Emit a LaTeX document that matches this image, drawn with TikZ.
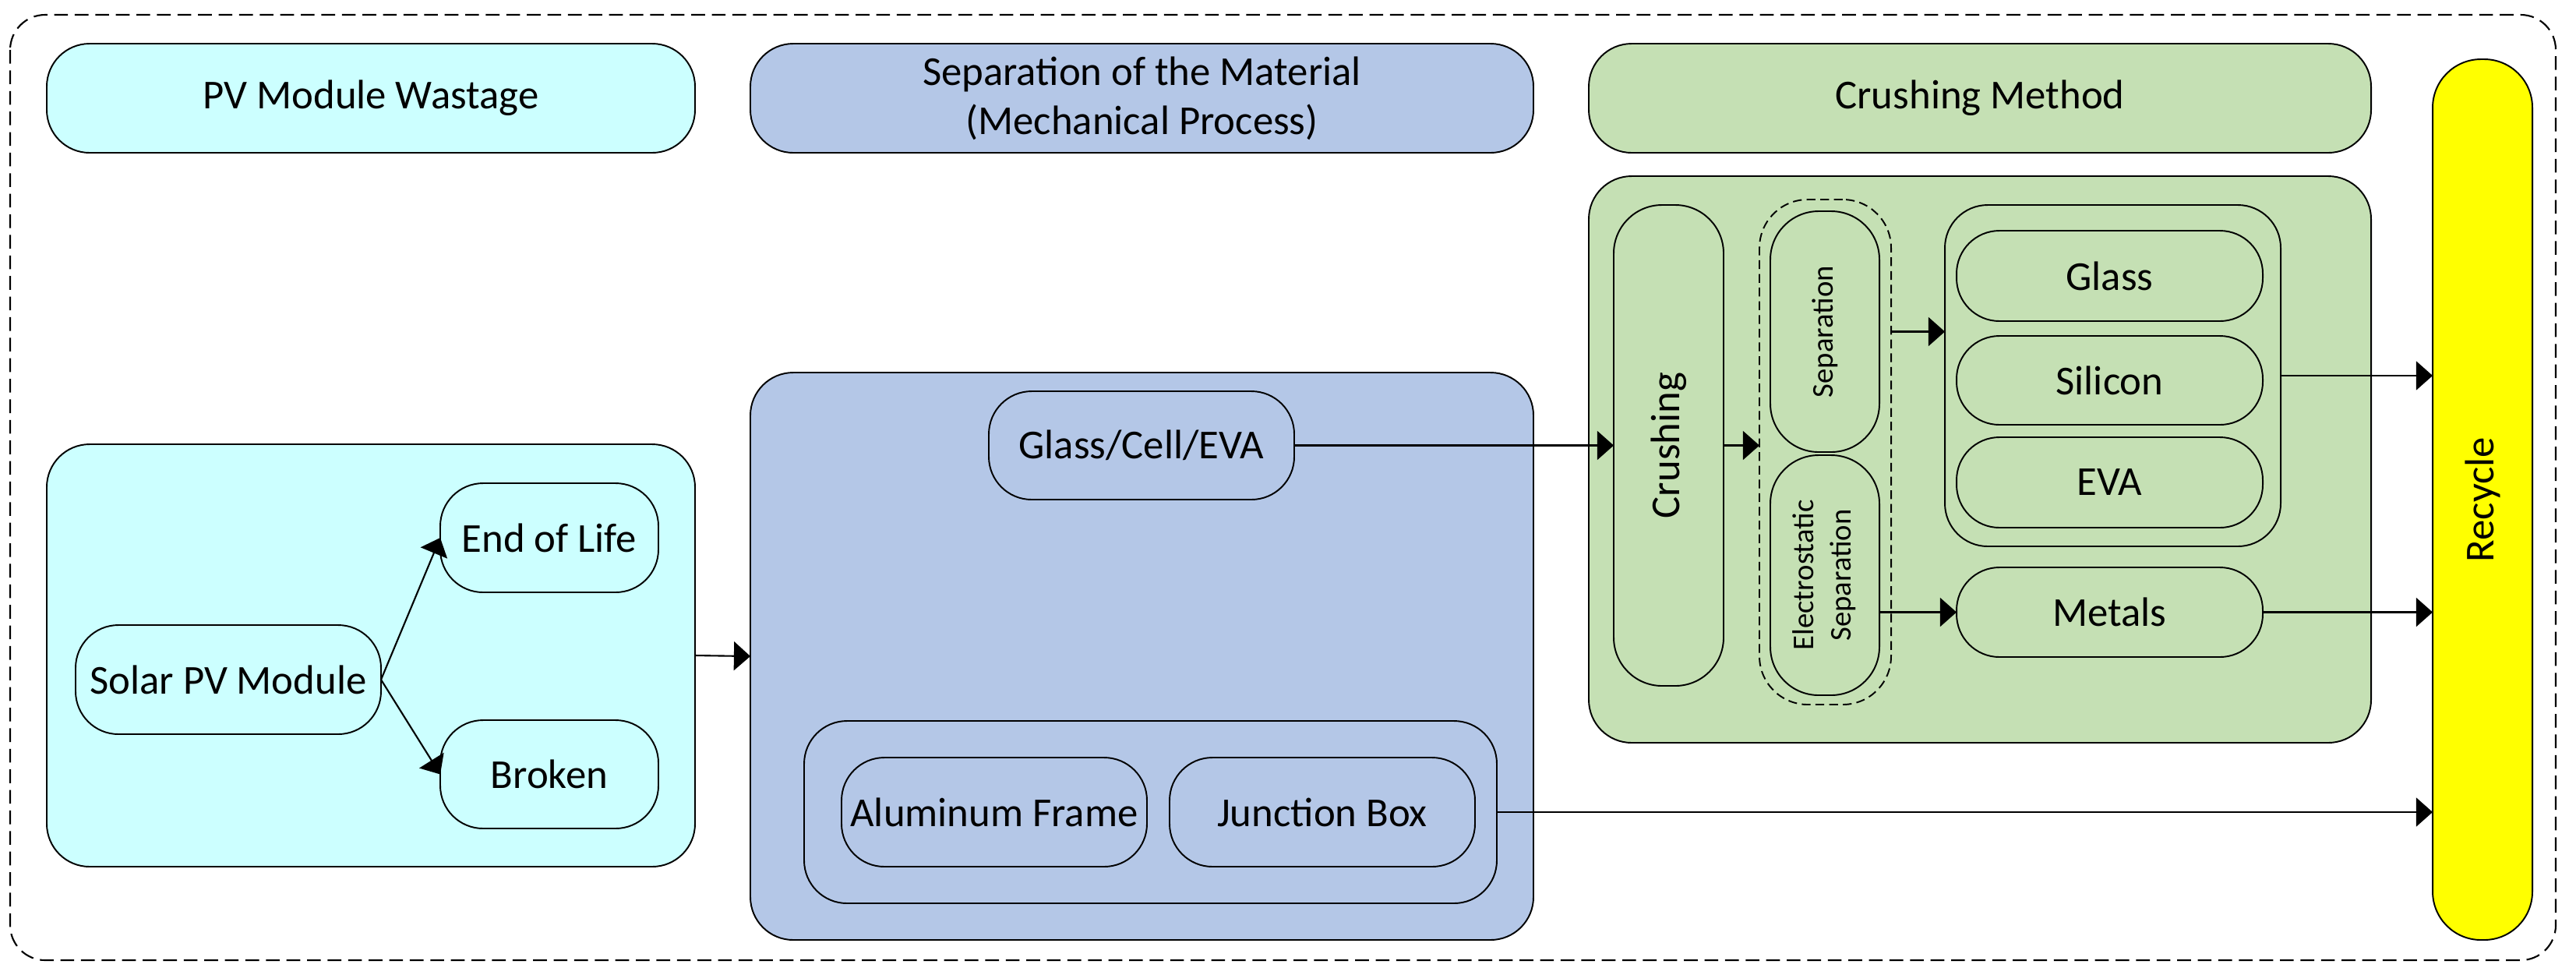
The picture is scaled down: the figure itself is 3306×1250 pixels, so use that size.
\documentclass[tikz,border=0pt]{standalone}
\usepackage{fontspec}
\setmainfont{Carlito}
\usetikzlibrary{arrows.meta}
\definecolor{cyanfill}{RGB}{204,255,255}
\definecolor{bluefill}{RGB}{180,199,231}
\definecolor{greenfill}{RGB}{197,224,180}
\definecolor{yellowfill}{RGB}{255,255,0}
\tikzset{
  wh/.style 2 args={minimum width=#1*0.01cm, minimum height=#2*0.01cm},
  box/.style={draw, line width=0.55pt, rounded corners=0.55cm, inner sep=0pt, outer sep=0pt,
    font=\fontsize{15}{18}\selectfont, align=center},
  tallbox/.style={box, rounded corners=0.62cm},
  arr/.style={line width=0.6pt, -{Triangle[length=6pt,width=10.5pt]}},
  smalltxt/.style={font=\fontsize{11}{13.4}\selectfont},
}
\begin{document}
\begin{tikzpicture}[x=0.01cm,y=-0.01cm]
\useasboundingbox (0,0) rectangle (3306,1250);
% outer dashed frame
\draw[line width=0.6pt, dash pattern=on 5pt off 2.5pt, rounded corners=0.45cm]
  (13,19) rectangle (3280,1232);
% headers
\node[box, fill=cyanfill, wh={832}{140}] (hpv) at (476,126) {PV Module Wastage};
\node[box, fill=bluefill, wh={1005}{140}] (hsep) at (1465.5,126) {Separation of the Material\\(Mechanical Process)};
\node[box, fill=greenfill, wh={1004}{140}] (hcm) at (2541,126) {Crushing Method};
% PV module wastage
\node[box, fill=cyanfill, wh={832}{542}] (pvbox) at (476,841) {};
\node[box, fill=cyanfill, wh={392}{140}] (solar) at (293,872) {Solar PV Module};
\node[box, fill=cyanfill, wh={280}{140}] (eol) at (705,690) {End of Life};
\node[box, fill=cyanfill, wh={280}{139}] (broken) at (705,993.5) {Broken};
% separation of the material
\node[box, fill=bluefill, wh={1005}{728}] (sepbox) at (1465.5,842) {};
\node[box, fill=bluefill, wh={392}{139}] (gce) at (1465,571.5) {Glass/Cell/EVA};
\node[box, fill=bluefill, wh={889}{234}] (jcont) at (1476.5,1042) {};
\node[box, fill=bluefill, wh={392}{140}] (alu) at (1276,1042) {Aluminum Frame};
\node[box, fill=bluefill, wh={392}{140}] (jbox) at (1697,1042) {Junction Box};
% crushing method
\node[box, fill=greenfill, wh={1004}{727}] (cmbox) at (2541,589.5) {};
\node[tallbox, fill=greenfill, wh={141}{617}] (crush) at (2141.5,571.5) {\rotatebox{90}{Crushing}};
\node[tallbox, dashed, dash pattern=on 3.2pt off 1.8pt, fill=greenfill, wh={169}{648}] (group) at (2342.5,580) {};
\node[tallbox, fill=greenfill, wh={140}{309}, smalltxt] (sepn) at (2342,425.5) {\rotatebox{90}{Separation}};
\node[tallbox, fill=greenfill, wh={140}{308}, smalltxt] (elec) at (2342,738)
  {\rotatebox{90}{\begin{tabular}{@{}c@{}}Electrostatic\\Separation\end{tabular}}};
\node[box, fill=greenfill, wh={431}{438}] (matc) at (2711.5,482) {};
\node[box, fill=greenfill, wh={393}{116}] (glass) at (2707.5,354) {Glass};
\node[box, fill=greenfill, wh={393}{114}] (silicon) at (2707.5,488) {Silicon};
\node[box, fill=greenfill, wh={393}{116}] (eva) at (2707.5,619) {EVA};
\node[box, fill=greenfill, wh={393}{115}] (metals) at (2707.5,785.5) {Metals};
% recycle
\node[tallbox, fill=yellowfill, wh={128}{1130}] (recycle) at (3186,641) {\rotatebox{90}{Recycle}};
% connectors
\draw[arr] (solar.east) -- (eol.west);
\draw[arr] (solar.east) -- (broken.west);
\draw[arr] (pvbox.east) -- (sepbox.west);
\draw[arr] (gce.east) -- (gce.east -| crush.west);
\draw[arr] (crush.east) -- (crush.east -| group.west);
\draw[arr] (sepn.east -| group.east) -- (sepn.east -| matc.west);
\draw[arr] (metals.west -| elec.east) -- (metals.west);
\draw[arr] (matc.east) -- (matc.east -| recycle.west);
\draw[arr] (metals.east) -- (metals.east -| recycle.west);
\draw[arr] (jcont.east) -- (jcont.east -| recycle.west);
\end{tikzpicture}
\end{document}
